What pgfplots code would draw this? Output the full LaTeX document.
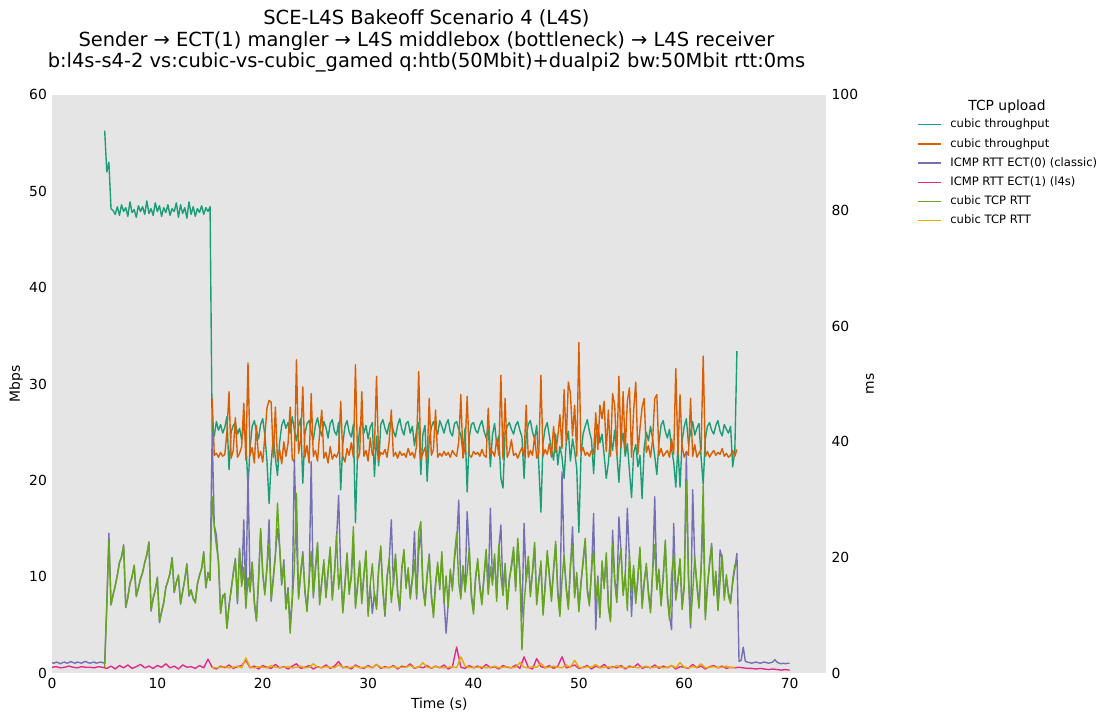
\documentclass[border=0pt]{standalone}
\usepackage{pgfplots}
\pgfplotsset{compat=1.18}
\usepackage{pgfplotstable}
\usepackage{fontspec}
\setmainfont{DejaVu Sans}
\definecolor{cA}{HTML}{1B9E77}
\definecolor{cB}{HTML}{D95F02}
\definecolor{cC}{HTML}{7570B3}
\definecolor{cD}{HTML}{E7298A}
\definecolor{cE}{HTML}{66A61E}
\definecolor{cF}{HTML}{E6AB02}
\definecolor{bgc}{HTML}{E5E5E5}

% cubic throughput (1), x = 5.0 + 0.2 i
\pgfplotstableread[header=false,row sep=\\]{
56.3\\52.0\\53.0\\48.2\\48.0\\47.6\\48.4\\47.5\\48.6\\47.9\\
48.3\\47.4\\48.9\\47.8\\48.1\\47.3\\48.5\\47.9\\48.4\\47.6\\
49.0\\47.7\\48.2\\47.5\\48.8\\47.9\\48.5\\47.4\\48.3\\47.8\\
48.6\\47.5\\48.2\\47.9\\48.8\\47.3\\48.6\\47.7\\48.3\\47.2\\
48.9\\47.6\\48.4\\47.4\\48.2\\47.8\\48.5\\47.6\\48.3\\47.9\\
48.4\\25.0\\
24.6\\26.1\\25.2\\25.8\\24.9\\
25.5\\26.6\\21.1\\25.0\\25.7\\
26.0\\24.8\\25.4\\24.2\\25.9\\
24.0\\19.3\\23.5\\25.6\\26.2\\
25.1\\24.3\\25.8\\26.4\\24.7\\
22.0\\17.6\\21.8\\24.5\\22.3\\
20.5\\23.9\\25.7\\26.3\\25.4\\
26.0\\24.9\\26.6\\25.2\\24.1\\
25.6\\26.4\\19.7\\24.8\\25.9\\
26.2\\25.0\\24.2\\25.7\\26.5\\
25.3\\24.6\\26.1\\25.5\\24.4\\
25.9\\26.3\\25.1\\24.7\\26.0\\
19.0\\23.8\\25.6\\26.2\\25.0\\
24.5\\25.8\\15.6\\23.0\\25.4\\
26.1\\24.9\\25.7\\24.3\\25.5\\
26.0\\20.4\\24.6\\21.5\\25.8\\
26.3\\25.4\\24.8\\25.9\\26.2\\
25.1\\24.5\\25.7\\26.4\\25.3\\
24.7\\25.9\\26.1\\24.9\\25.6\\
23.6\\25.2\\26.0\\20.6\\24.8\\
25.7\\19.9\\24.2\\25.5\\26.1\\
25.4\\24.8\\26.2\\25.6\\24.9\\
25.8\\26.3\\25.0\\24.6\\25.9\\
26.1\\25.3\\24.7\\22.9\\25.4\\
18.8\\24.5\\25.8\\26.0\\25.2\\
24.9\\25.7\\26.2\\25.1\\24.4\\
25.6\\21.4\\24.7\\25.9\\23.8\\
24.6\\20.2\\19.2\\24.9\\25.6\\
26.0\\25.3\\24.8\\25.7\\26.1\\
25.2\\24.5\\20.2\\24.6\\25.8\\
26.2\\25.0\\24.3\\25.7\\21.5\\
16.7\\23.9\\25.4\\26.0\\24.6\\
23.2\\22.1\\24.8\\21.6\\23.5\\
22.4\\20.2\\23.9\\25.1\\22.0\\
24.3\\23.0\\21.2\\14.6\\22.5\\
24.8\\25.6\\26.3\\25.1\\24.2\\
20.7\\24.6\\25.8\\23.9\\24.8\\
22.6\\20.2\\21.8\\24.5\\23.1\\
25.2\\22.8\\19.8\\23.6\\24.9\\
22.5\\23.8\\21.0\\18.2\\22.9\\
23.7\\21.4\\22.6\\18.1\\23.4\\
25.0\\24.1\\25.6\\24.3\\22.5\\
20.6\\23.9\\25.7\\26.2\\25.1\\
24.4\\25.3\\23.2\\21.9\\19.3\\
23.5\\19.3\\24.1\\25.6\\26.4\\
23.8\\25.0\\26.1\\24.7\\25.4\\
25.9\\22.4\\19.6\\24.3\\25.6\\
26.0\\25.2\\24.8\\25.7\\26.2\\
25.1\\24.6\\25.8\\25.3\\24.9\\
25.6\\21.4\\23.0\\33.4\\
}\gthr

% cubic throughput (2), x = 15.2 + 0.2 i
\pgfplotstableread[header=false,row sep=\\]{
28.5\\
22.6\\22.8\\22.4\\22.9\\22.5\\
22.7\\25.0\\29.2\\22.3\\23.1\\
26.5\\22.4\\22.8\\23.5\\28.0\\
22.1\\32.2\\22.6\\23.4\\21.8\\
25.7\\22.3\\23.0\\21.9\\24.6\\
27.5\\28.3\\28.1\\22.4\\27.6\\
22.0\\23.2\\21.7\\24.0\\22.5\\
23.8\\27.6\\22.2\\21.9\\32.5\\
22.8\\24.2\\29.7\\22.4\\23.6\\
21.8\\29.0\\22.5\\23.1\\22.0\\
24.9\\27.3\\22.3\\22.9\\21.8\\
23.5\\22.2\\22.7\\22.4\\23.0\\
28.2\\22.5\\21.9\\23.3\\22.6\\
23.9\\22.4\\32.0\\22.2\\22.8\\
29.2\\22.5\\23.1\\22.0\\24.4\\
22.6\\23.5\\30.8\\22.1\\22.9\\
22.7\\23.2\\22.4\\24.1\\27.3\\
22.5\\22.9\\22.3\\23.0\\22.6\\
22.8\\22.4\\23.3\\22.6\\22.9\\
22.3\\23.6\\31.3\\22.2\\22.8\\
23.4\\22.1\\28.5\\22.6\\23.2\\
27.3\\22.4\\22.8\\22.5\\23.0\\
22.6\\22.9\\22.4\\23.1\\22.7\\
22.5\\24.0\\28.9\\22.3\\23.5\\
28.7\\22.6\\22.4\\23.0\\22.7\\
22.9\\22.5\\23.2\\22.6\\22.4\\
27.5\\22.7\\23.0\\22.5\\24.3\\
22.6\\30.9\\22.2\\28.5\\22.4\\
23.0\\24.2\\22.6\\22.8\\22.3\\
22.9\\23.4\\22.5\\27.8\\22.4\\
23.1\\22.6\\24.6\\22.3\\22.8\\
30.9\\22.5\\23.2\\22.7\\23.8\\
22.4\\25.6\\22.9\\24.5\\26.8\\
23.3\\29.4\\24.0\\30.2\\29.0\\
24.6\\27.8\\22.5\\34.3\\22.9\\
23.4\\22.6\\22.9\\22.5\\23.1\\
22.7\\27.0\\23.2\\27.8\\26.4\\
28.2\\23.0\\27.3\\22.5\\29.0\\
27.8\\22.6\\30.8\\23.4\\29.2\\
23.0\\28.2\\29.6\\22.4\\27.3\\
30.2\\22.7\\25.4\\27.6\\28.5\\
22.9\\23.6\\22.4\\24.2\\28.5\\
28.9\\22.6\\23.3\\22.5\\22.8\\
23.1\\22.4\\24.3\\22.7\\31.6\\
22.6\\28.9\\23.5\\22.4\\23.0\\
22.6\\28.5\\22.5\\23.7\\22.4\\
22.8\\23.2\\32.9\\22.5\\23.0\\
22.4\\22.8\\23.1\\22.6\\22.9\\
22.7\\23.3\\22.5\\22.8\\22.4\\
22.6\\23.1\\22.5\\23.2\\
}\othr

% ICMP RTT ECT(0), x = 0.2 i
\pgfplotstableread[header=false,row sep=\\]{
1.8\\1.7\\1.9\\1.8\\1.6\\1.8\\1.9\\1.7\\1.8\\2.0\\
1.8\\1.7\\1.9\\1.8\\1.7\\1.9\\2.0\\1.8\\1.7\\1.8\\
1.9\\1.7\\1.8\\1.9\\1.8\\
1.7\\12.0\\24.2\\
11.8\\13.6\\15.0\\17.0\\19.2\\20.0\\22.2\\
11.3\\13.2\\15.4\\16.8\\18.5\\
13.4\\14.6\\16.4\\17.3\\19.2\\
20.4\\22.7\\10.7\\13.0\\14.3\\
16.6\\8.7\\10.7\\12.2\\14.7\\
16.0\\17.2\\20.0\\13.9\\15.8\\
16.8\\11.9\\14.2\\16.1\\18.9\\
13.3\\14.4\\12.8\\12.3\\15.3\\
17.0\\18.0\\21.0\\14.7\\17.4\\
16.2\\41.5\\
25.5\\23.9\\19.0\\10.5\\13.4\\
13.5\\7.9\\11.8\\14.2\\17.4\\
19.8\\12.0\\21.3\\15.6\\26.5\\
12.4\\34.8\\14.6\\19.2\\12.0\\
9.0\\16.2\\24.6\\17.0\\14.0\\
18.0\\26.5\\12.4\\16.6\\20.6\\
25.0\\21.8\\15.2\\19.6\\11.4\\
14.8\\8.2\\13.0\\36.9\\23.5\\
13.2\\17.0\\21.0\\14.0\\11.2\\
15.8\\36.6\\13.0\\17.8\\22.0\\
12.2\\16.0\\19.0\\13.6\\17.8\\
21.2\\13.0\\17.4\\23.0\\30.7\\
17.6\\10.8\\15.6\\20.2\\14.2\\
16.4\\22.8\\11.8\\15.4\\19.0\\
12.6\\17.2\\20.6\\10.4\\15.0\\
10.3\\13.8\\11.6\\18.2\\21.4\\
14.6\\9.8\\16.8\\19.2\\26.5\\
15.2\\20.0\\14.2\\10.8\\18.4\\
20.8\\15.2\\17.6\\13.4\\16.6\\
24.5\\12.8\\21.0\\24.8\\14.6\\
12.2\\16.6\\20.6\\13.2\\10.2\\
15.6\\18.6\\15.0\\20.4\\12.6\\
6.9\\12.0\\17.4\\14.8\\19.8\\
22.6\\29.9\\13.4\\18.0\\14.6\\
27.9\\21.0\\13.6\\10.8\\16.8\\
19.2\\15.2\\12.4\\16.4\\20.8\\
14.2\\28.5\\15.8\\20.0\\13.0\\
21.6\\25.6\\14.0\\18.4\\11.6\\
16.4\\18.2\\21.2\\14.8\\22.6\\
17.0\\9.6\\25.9\\15.8\\19.6\\
13.8\\17.2\\22.0\\12.4\\16.2\\
18.8\\10.6\\15.4\\20.6\\17.2\\
13.0\\17.6\\22.2\\14.2\\10.4\\
34.8\\19.8\\15.0\\11.6\\18.2\\
25.3\\13.6\\16.8\\11.2\\15.8\\
19.0\\22.6\\14.6\\12.2\\17.4\\
27.6\\7.5\\16.8\\10.2\\18.8\\
15.2\\20.2\\12.0\\9.2\\24.7\\
16.4\\12.8\\27.0\\21.0\\14.0\\
16.6\\28.5\\19.8\\9.8\\18.0\\
12.6\\16.2\\21.2\\11.8\\16.0\\
18.4\\14.2\\11.0\\17.2\\30.5\\
15.0\\17.4\\12.2\\16.8\\22.4\\
13.6\\9.8\\7.5\\25.9\\13.2\\
16.2\\19.2\\11.6\\15.4\\38.0\\
17.0\\7.8\\31.7\\19.4\\15.6\\
11.8\\17.8\\27.0\\9.8\\15.2\\
18.6\\22.4\\14.0\\17.0\\11.4\\
21.3\\19.8\\13.2\\16.4\\13.8\\
12.6\\15.6\\18.0\\20.7\\
2.0\\2.2\\4.5\\2.0\\1.9\\1.8\\1.7\\1.8\\1.9\\1.8\\
1.7\\1.8\\1.9\\1.8\\1.7\\1.8\\1.9\\2.3\\1.9\\1.7\\
1.6\\1.7\\1.6\\1.7\\1.7\\
}\icmpa

% ICMP RTT ECT(1), x = 0.4 i
\pgfplotstableread[header=false,row sep=\\]{
1.0\\1.1\\0.9\\1.0\\1.2\\1.0\\0.9\\1.1\\1.0\\1.0\\0.9\\1.1\\1.0\\
0.8\\1.2\\0.7\\1.3\\0.9\\1.4\\0.8\\1.1\\1.5\\0.9\\1.2\\
0.8\\1.3\\1.0\\1.6\\0.9\\1.2\\0.7\\1.4\\1.0\\1.1\\0.8\\
1.3\\0.9\\2.4\\1.0\\0.7\\1.2\\0.9\\1.4\\0.8\\1.1\\1.3\\
2.2\\0.9\\1.2\\0.7\\1.3\\1.0\\0.8\\1.5\\0.9\\1.1\\0.7\\
1.2\\1.6\\0.8\\1.0\\1.3\\0.7\\1.1\\0.9\\1.4\\0.8\\1.2\\
2.0\\0.9\\1.1\\0.7\\1.4\\1.0\\0.8\\1.3\\0.9\\1.5\\0.8\\
1.1\\0.9\\1.3\\0.7\\1.2\\1.0\\1.6\\0.8\\1.1\\0.9\\1.3\\
0.8\\1.2\\0.9\\1.4\\0.7\\1.1\\4.5\\1.0\\0.8\\1.3\\0.9\\
1.2\\0.8\\1.5\\0.9\\1.1\\0.7\\1.3\\1.0\\0.9\\1.4\\0.8\\
2.8\\1.0\\0.7\\2.5\\1.1\\0.9\\1.3\\0.8\\1.2\\2.8\\0.9\\
1.1\\1.4\\0.8\\1.0\\1.3\\0.7\\1.2\\0.9\\1.5\\0.8\\1.1\\
0.9\\1.3\\0.7\\1.2\\1.0\\1.6\\0.8\\1.1\\0.9\\1.4\\0.8\\
1.2\\0.9\\1.3\\0.7\\1.1\\1.0\\0.8\\1.5\\0.9\\1.2\\0.7\\
1.1\\1.3\\0.9\\1.2\\0.8\\1.0\\0.9\\
1.0\\0.9\\0.8\\0.8\\0.7\\0.8\\0.7\\0.6\\0.7\\0.6\\0.5\\0.6\\0.5\\
}\icmpb

% cubic TCP RTT (1), x = 5.0 + 0.2 i
\pgfplotstableread[header=false,row sep=\\]{
1.0\\11.5\\23.0\\11.8\\13.5\\15.2\\16.8\\19.0\\20.2\\22.0\\
11.5\\13.0\\15.6\\16.5\\18.7\\13.2\\14.8\\16.2\\17.5\\19.0\\
20.6\\22.5\\10.9\\12.8\\14.5\\16.4\\8.9\\10.5\\12.0\\14.9\\
15.8\\17.4\\19.8\\14.1\\15.6\\17.0\\12.1\\14.0\\16.3\\18.7\\
13.5\\14.2\\13.0\\12.1\\15.5\\16.8\\18.2\\20.8\\14.9\\17.2\\
16.0\\30.5\\
25.3\\22.0\\19.5\\10.3\\13.0\\
13.8\\7.7\\11.5\\14.6\\17.0\\
19.5\\12.4\\21.6\\15.0\\18.3\\
11.2\\16.5\\14.0\\19.0\\12.6\\
9.2\\15.8\\25.0\\17.4\\13.5\\
18.6\\22.4\\12.8\\16.0\\20.2\\
29.4\\22.2\\15.6\\18.8\\11.0\\
14.2\\6.9\\12.5\\18.0\\31.1\\
12.8\\17.6\\20.5\\14.4\\10.6\\
16.2\\21.0\\13.4\\18.4\\22.6\\
11.8\\15.5\\19.6\\13.0\\17.2\\
21.8\\12.6\\16.8\\24.0\\14.5\\
18.2\\10.4\\15.0\\20.8\\13.6\\
17.0\\25.3\\11.2\\14.8\\19.4\\
12.0\\16.6\\21.2\\9.8\\15.4\\
18.9\\13.2\\11.0\\17.6\\22.0\\
14.0\\10.2\\16.4\\19.8\\12.2\\
15.8\\20.6\\13.6\\11.4\\17.8\\
21.4\\14.6\\18.2\\12.8\\16.0\\
19.6\\13.4\\24.4\\26.2\\15.2\\
11.6\\17.2\\20.0\\13.8\\9.6\\
15.0\\19.2\\14.4\\21.0\\12.0\\
16.8\\11.4\\18.0\\14.2\\20.4\\
24.2\\15.6\\12.8\\18.6\\14.0\\
17.4\\21.6\\13.0\\10.2\\16.2\\
19.8\\14.6\\11.8\\17.0\\21.4\\
13.6\\18.4\\15.2\\20.6\\12.4\\
22.2\\16.8\\13.4\\19.0\\11.0\\
15.8\\18.8\\21.8\\14.2\\23.3\\
17.6\\4.0\\12.0\\16.4\\20.2\\
13.2\\17.8\\22.6\\11.8\\15.6\\
19.4\\10.0\\14.8\\21.2\\16.6\\
12.4\\18.2\\22.8\\13.6\\9.8\\
16.0\\20.4\\14.4\\11.0\\18.8\\
22.0\\13.0\\17.4\\10.6\\15.2\\
19.6\\23.3\\14.0\\11.6\\18.0\\
21.2\\12.8\\16.2\\9.6\\19.4\\
14.6\\20.8\\11.4\\8.9\\22.4\\
15.8\\12.2\\18.6\\21.6\\13.4\\
17.2\\10.8\\20.4\\14.0\\18.6\\
12.0\\16.8\\21.8\\11.2\\15.4\\
19.0\\13.6\\10.4\\17.8\\22.2\\
14.4\\18.0\\11.6\\16.2\\23.0\\
13.0\\9.2\\17.0\\20.6\\12.6\\
15.6\\19.8\\11.0\\14.8\\33.1\\
16.4\\8.6\\13.8\\20.0\\15.0\\
11.2\\18.4\\32.5\\9.2\\14.6\\
19.2\\22.0\\13.4\\17.6\\10.8\\
15.8\\20.4\\12.6\\17.0\\13.2\\
12.0\\16.2\\18.7\\18.7\\
}\tcpa

% cubic TCP RTT (2), x = 15.2 + 0.4 i
\pgfplotstableread[header=false,row sep=\\]{
1.0\\0.9\\1.0\\1.1\\0.9\\1.0\\1.2\\0.9\\2.6\\1.0\\0.9\\
1.1\\1.0\\0.9\\1.3\\1.0\\0.9\\1.0\\1.1\\0.9\\1.0\\1.2\\
0.9\\1.0\\1.6\\1.0\\0.9\\1.1\\1.0\\0.9\\1.4\\1.0\\0.9\\
1.0\\1.2\\0.9\\1.0\\1.1\\0.9\\1.5\\1.0\\0.9\\1.0\\1.1\\
0.9\\1.0\\1.0\\1.3\\0.9\\1.0\\1.8\\1.0\\0.9\\1.1\\1.0\\
0.9\\1.0\\1.1\\0.9\\2.8\\1.2\\1.0\\0.9\\1.0\\1.1\\0.9\\
1.0\\1.2\\0.9\\1.0\\1.1\\0.9\\1.0\\1.8\\1.0\\0.9\\1.1\\
1.0\\1.7\\0.9\\1.0\\1.2\\1.0\\0.9\\1.4\\1.0\\2.2\\1.0\\
0.9\\1.1\\1.0\\1.5\\0.9\\1.0\\1.1\\0.9\\1.3\\1.0\\0.9\\
1.0\\1.1\\0.9\\1.0\\1.2\\0.9\\1.0\\1.1\\0.9\\1.0\\1.3\\
0.9\\1.8\\1.0\\0.9\\1.1\\1.0\\1.6\\0.9\\1.0\\1.1\\0.9\\
1.0\\1.2\\0.9\\1.0\\
}\tcpb

\pgfplotsset{
  common/.style={
    at={(0,0)}, anchor=south west, scale only axis,
    width=557.6pt, height=416.2pt,
    xmin=0, xmax=73.5,
    axis line style={draw=none},
    major tick length=0pt, minor tick num=0,
    tick style={draw=none},
    ticklabel style={font=\fontsize{10}{12}\selectfont},
    label style={font=\fontsize{10}{12}\selectfont},
    /pgf/number format/assume math mode=true,
  }
}

\begin{document}
\begin{tikzpicture}
\begin{axis}[common,
  ymin=0, ymax=60,
  axis background/.style={fill=bgc},
  xtick={0,10,...,70}, ytick={0,10,...,60},
  xticklabel style={anchor=north, inner sep=0pt, yshift=-3.8pt},
  yticklabel style={anchor=east, inner sep=0pt, xshift=-3.5pt},
  xlabel={Time (s)}, ylabel={Mbps},
  xlabel style={at={(axis description cs:0.5,-0.0536)}, anchor=center},
  ylabel style={at={(axis description cs:-0.0465,0.5)}, anchor=center},
]
\addplot[cA, line width=1pt, line join=round] table[x expr={5+0.2*\coordindex}, y index=0] {\gthr};
\addplot[cB, line width=1pt, line join=round] table[x expr={15.2+0.2*\coordindex}, y index=0] {\othr};
\end{axis}
\begin{axis}[common,
  ymin=0, ymax=100,
  axis x line=none, axis y line*=right,
  ytick={0,20,...,100},
  yticklabel style={anchor=west, inner sep=0pt, xshift=3.5pt},
  ylabel={ms},
  ylabel style={at={(axis description cs:1.0562,0.5)}, anchor=center},
  legend style={at={(1.1169,0.958)}, anchor=north west, draw=none, fill=none,
    inner sep=0pt, outer sep=0pt, row sep=5.8pt, column sep=6.4pt,
    font=\fontsize{8.33}{10}\selectfont,
    nodes={inner sep=0pt, text height=6.2pt, text depth=1.8pt}},
  legend image code/.code={\draw[#1, line width=1pt] (0pt,0pt) -- (16.6pt,0pt);},
  legend cell align=left,
]
\addlegendimage{cA}
\addlegendentry{cubic throughput}
\addlegendimage{cB}
\addlegendentry{cubic throughput}
\addplot[cC, line width=1pt, line join=round] table[x expr={0.2*\coordindex}, y index=0] {\icmpa};
\addlegendentry{ICMP RTT ECT(0) (classic)}
\addplot[cD, line width=1pt, line join=round] table[x expr={0.4*\coordindex}, y index=0] {\icmpb};
\addlegendentry{ICMP RTT ECT(1) (l4s)}
\addplot[cE, line width=1pt, line join=round] table[x expr={5+0.2*\coordindex}, y index=0] {\tcpa};
\addlegendentry{cubic TCP RTT}
\addplot[cF, line width=1pt, line join=round] table[x expr={15.2+0.4*\coordindex}, y index=0] {\tcpb};
\addlegendentry{cubic TCP RTT}
\end{axis}
\node[font=\fontsize{14}{16}\selectfont, anchor=base] at (269.6pt,466.6pt) {SCE-L4S Bakeoff Scenario 4 (L4S)};
\node[font=\fontsize{14}{16}\selectfont, anchor=base] at (269.6pt,451.1pt) {Sender → ECT(1) mangler → L4S middlebox (bottleneck) → L4S receiver};
\node[font=\fontsize{14}{16}\selectfont, anchor=base] at (269.6pt,435.6pt) {b:l4s-s4-2 vs:cubic-vs-cubic\_gamed q:htb(50Mbit)+dualpi2 bw:50Mbit rtt:0ms};
\node[font=\fontsize{10}{12}\selectfont, anchor=center] at (687.6pt,407.5pt) {TCP upload};
\pgfresetboundingbox
\path[use as bounding box] (-37.44pt,-34.56pt) rectangle (762.44pt,484.56pt);
\end{tikzpicture}
\end{document}
